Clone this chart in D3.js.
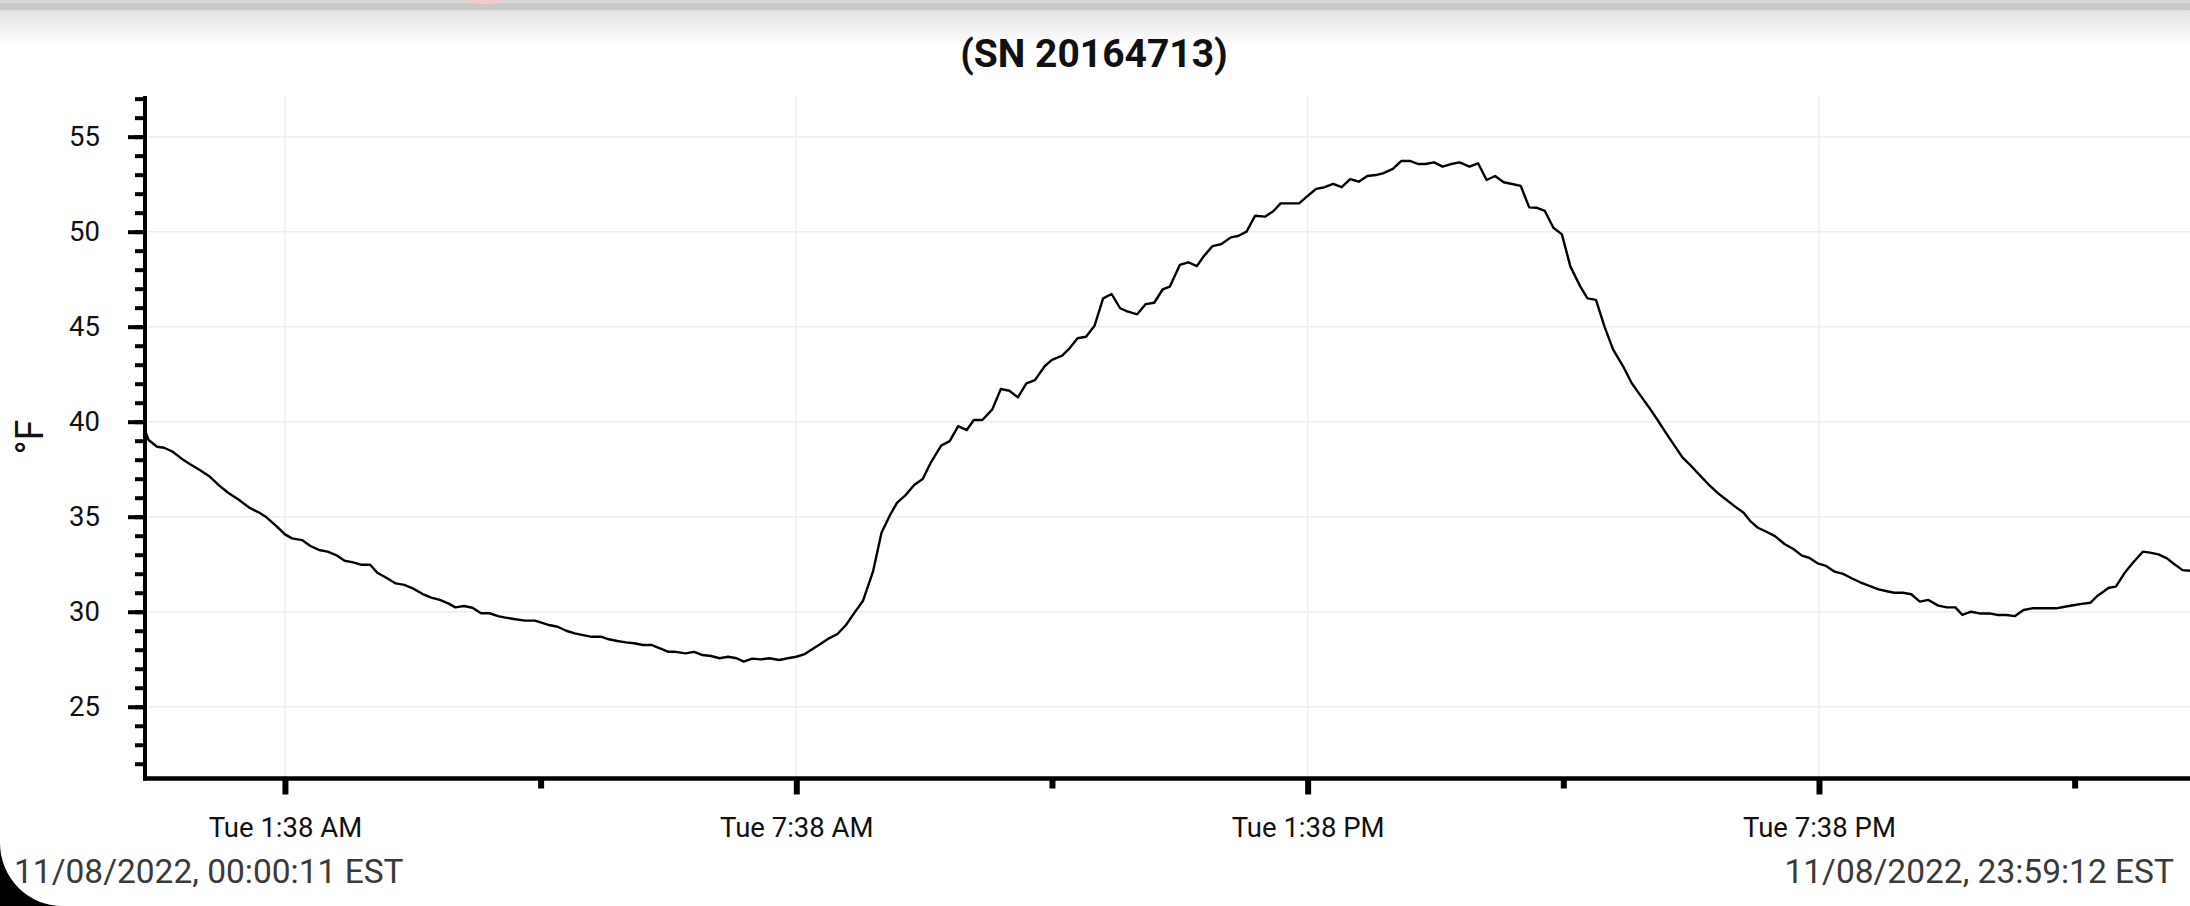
<!DOCTYPE html>
<html>
<head>
    <meta charset="utf-8">
    <title>(SN 20164713)</title>
    <script src="https://d3js.org/d3.v7.min.js"></script>
    <style>
        body {
            margin: 0;
            background: #fff;
            overflow: hidden;
            font-family: Roboto, sans-serif;
        }
        svg { display: block; }
        .tick text {
            font-family: Roboto, sans-serif;
            font-size: 27.5px;
            fill: #111;
        }
    </style>
</head>
<body>
    <svg id="chart"></svg>

    <script>
        // chart data (11/08/2022)
        const day = "2022-11-08";
        const titleText = "(SN 20164713)";
        const yLabel = "°F";
        const startLabel = "11/08/2022, 00:00:11 EST";
        const endLabel = "11/08/2022, 23:59:12 EST";

        const times = [
            "00:00:11", "00:02", "00:08", "00:13", "00:19", "00:25", "00:31", "00:38", "00:45", "00:52",
            "00:58", "01:05", "01:13", "01:20", "01:25", "01:32", "01:38", "01:43", "01:50", "01:56",
            "02:02", "02:08", "02:14", "02:20", "02:26", "02:32", "02:38", "02:43", "02:50", "02:56",
            "03:02", "03:08", "03:15", "03:21", "03:27", "03:33", "03:38", "03:44", "03:50", "03:56",
            "04:02", "04:08", "04:14", "04:19", "04:27", "04:34", "04:38", "04:44", "04:50", "04:56",
            "05:02", "05:08", "05:14", "05:21", "05:26", "05:32", "05:38", "05:44", "05:50", "05:56",
            "06:02", "06:08", "06:13", "06:20", "06:26", "06:32", "06:38", "06:44", "06:50", "06:56",
            "07:01", "07:07", "07:13", "07:19", "07:26", "07:32", "07:38", "07:44", "07:50", "07:55",
            "08:01", "08:07", "08:13", "08:19", "08:25", "08:32", "08:38", "08:44", "08:49", "08:55",
            "09:01", "09:07", "09:13", "09:20", "09:26", "09:32", "09:38", "09:43", "09:49", "09:56",
            "10:02", "10:08", "10:14", "10:20", "10:26", "10:33", "10:38", "10:45", "10:50", "10:56",
            "11:02", "11:08", "11:14", "11:20", "11:26", "11:31", "11:38", "11:44", "11:50", "11:56",
            "12:01", "12:08", "12:14", "12:20", "12:25", "12:31", "12:37", "12:44", "12:49", "12:55",
            "13:01", "13:08", "13:14", "13:19", "13:25", "13:32", "13:38", "13:44", "13:50", "13:56",
            "14:02", "14:08", "14:14", "14:20", "14:26", "14:31", "14:38", "14:44", "14:50", "14:56",
            "15:01", "15:07", "15:13", "15:19", "15:25", "15:32", "15:38", "15:44", "15:50", "15:56",
            "16:02", "16:08", "16:14", "16:19", "16:25", "16:31", "16:37", "16:43", "16:50", "16:55",
            "17:01", "17:07", "17:13", "17:20", "17:26", "17:32", "17:38", "17:44", "17:50", "17:56",
            "18:02", "18:08", "18:14", "18:20", "18:27", "18:33", "18:39", "18:45", "18:50", "18:55",
            "19:01", "19:07", "19:14", "19:20", "19:26", "19:31", "19:37", "19:43", "19:49", "19:55",
            "20:01", "20:07", "20:13", "20:20", "20:25", "20:31", "20:37", "20:43", "20:49", "20:55",
            "21:02", "21:08", "21:14", "21:19", "21:25", "21:31", "21:38", "21:44", "21:50", "21:56",
            "22:02", "22:08", "22:13", "22:19", "22:25", "22:31", "22:37", "22:43", "22:49", "22:54",
            "23:02", "23:07", "23:13", "23:19", "23:26", "23:31", "23:37", "23:43", "23:48", "23:54",
            "23:59:12"
        ];

        const tempsF = [
            39.39, 39.04, 38.68, 38.63, 38.42, 38.07, 37.77, 37.46, 37.11, 36.62,
            36.26, 35.92, 35.47, 35.21, 34.97, 34.51, 34.07, 33.86, 33.77, 33.46,
            33.25, 33.16, 32.98, 32.68, 32.60, 32.47, 32.47, 32.05, 31.76, 31.49,
            31.41, 31.23, 30.93, 30.74, 30.62, 30.44, 30.23, 30.30, 30.21, 29.92,
            29.92, 29.77, 29.68, 29.62, 29.53, 29.53, 29.44, 29.30, 29.21, 29.00,
            28.86, 28.77, 28.68, 28.68, 28.55, 28.46, 28.39, 28.34, 28.25, 28.25,
            28.07, 27.89, 27.89, 27.81, 27.89, 27.72, 27.67, 27.55, 27.63, 27.55,
            27.37, 27.53, 27.49, 27.55, 27.46, 27.55, 27.63, 27.77, 28.07, 28.30,
            28.60, 28.83, 29.30, 29.95, 30.58, 32.11, 34.16, 35.09, 35.74, 36.14,
            36.67, 36.98, 37.89, 38.74, 38.98, 39.77, 39.56, 40.09, 40.09, 40.65,
            41.72, 41.63, 41.28, 42.02, 42.19, 42.93, 43.25, 43.47, 43.83, 44.39,
            44.47, 45.05, 46.49, 46.72, 45.97, 45.81, 45.65, 46.19, 46.26, 46.97,
            47.11, 48.25, 48.39, 48.19, 48.72, 49.24, 49.34, 49.70, 49.77, 50.00,
            50.84, 50.79, 51.09, 51.49, 51.49, 51.49, 51.88, 52.25, 52.34, 52.51,
            52.34, 52.77, 52.63, 52.93, 52.98, 53.07, 53.30, 53.72, 53.72, 53.56,
            53.56, 53.65, 53.42, 53.56, 53.65, 53.42, 53.60, 52.72, 52.93, 52.60,
            52.51, 52.41, 51.28, 51.26, 51.09, 50.21, 49.86, 48.16, 47.11, 46.49,
            46.41, 45.00, 43.81, 42.93, 42.05, 41.41, 40.79, 40.13, 39.44, 38.77,
            38.11, 37.67, 37.19, 36.72, 36.23, 35.88, 35.53, 35.21, 34.74, 34.42,
            34.21, 33.98, 33.55, 33.30, 32.95, 32.84, 32.55, 32.41, 32.11, 31.99,
            31.76, 31.55, 31.37, 31.18, 31.09, 31.00, 31.00, 30.92, 30.53, 30.62,
            30.32, 30.23, 30.23, 29.83, 30.00, 29.91, 29.91, 29.83, 29.83, 29.77,
            30.09, 30.18, 30.18, 30.18, 30.18, 30.26, 30.34, 30.41, 30.47, 30.83,
            31.26, 31.32, 32.02, 32.58, 33.16, 33.11, 33.02, 32.81, 32.51, 32.19,
            32.16
        ];

        // axis ticks
        const yMajorTicks = [25, 30, 35, 40, 45, 50, 55];
        const yMinorTicks = d3.range(22, 58);
        const xMajorTicks = ["01:38", "07:38", "13:38", "19:38"];
        const xMinorTicks = ["04:38", "10:38", "16:38", "22:38"];
        const yDomain = [21.25, 57.14];

        // layout
        const width = 2190, height = 906;
        const plot = { left: 146, right: 2190, top: 96, bottom: 778 };
        const axisX = 145, axisY = 778.5;

        function parseTime(s) {
            const f = s.length > 5 ? "%Y-%m-%d %H:%M:%S" : "%Y-%m-%d %H:%M";
            return d3.timeParse(f)(day + " " + s);
        }

        const data = times.map((t, i) => ({ t: parseTime(t), v: tempsF[i] }));

        const svg = d3.select("#chart")
            .attr("width", width)
            .attr("height", height);

        // background: top shadow band, rounded corner
        const defs = svg.append("defs");
        const grad = defs.append("linearGradient")
            .attr("id", "topShade")
            .attr("x1", 0).attr("x2", 0).attr("y1", 0).attr("y2", 1);
        grad.append("stop").attr("offset", "0%").attr("stop-color", "#e1e1e1");
        grad.append("stop").attr("offset", "100%").attr("stop-color", "#ffffff");

        svg.append("rect").attr("width", width).attr("height", height).attr("fill", "#fff");
        svg.append("rect").attr("y", 0).attr("width", width).attr("height", 3).attr("fill", "#d9d9d9");
        svg.append("rect").attr("y", 3).attr("width", width).attr("height", 7).attr("fill", "#c9c9c9");
        svg.append("rect").attr("y", 10).attr("width", width).attr("height", 36).attr("fill", "url(#topShade)");
        svg.append("ellipse").attr("cx", 486).attr("cy", 1).attr("rx", 18).attr("ry", 3).attr("fill", "#f2cccc");
        svg.append("path")
            .attr("d", "M0,843 A62,63 0 0 0 62,906 L0,906 Z")
            .attr("fill", "#000");

        // scales
        const x = d3.scaleTime()
            .domain([data[0].t, data[data.length - 1].t])
            .range([plot.left, plot.right]);

        const y = d3.scaleLinear()
            .domain(yDomain)
            .range([plot.bottom, plot.top]);

        // grid
        const grid = svg.append("g").attr("stroke", "#eeeeee").attr("stroke-width", 1.5);
        grid.selectAll(".hgrid")
            .data(yMajorTicks)
            .enter().append("line")
            .attr("x1", plot.left).attr("x2", plot.right)
            .attr("y1", d => y(d)).attr("y2", d => y(d));
        grid.selectAll(".vgrid")
            .data(xMajorTicks.map(parseTime))
            .enter().append("line")
            .attr("x1", d => x(d)).attr("x2", d => x(d))
            .attr("y1", plot.top).attr("y2", plot.bottom);

        // temperature line
        const line = d3.line()
            .x(d => x(d.t))
            .y(d => y(d.v));

        svg.append("path")
            .datum(data)
            .attr("fill", "none")
            .attr("stroke", "#000")
            .attr("stroke-width", 2.4)
            .attr("stroke-linejoin", "round")
            .attr("d", line);

        // y axis: minor then major ticks
        svg.append("g")
            .attr("transform", `translate(${axisX},0)`)
            .call(d3.axisLeft(y).tickValues(yMinorTicks).tickSize(10).tickSizeOuter(0).tickFormat(""))
            .call(g => g.select(".domain").remove())
            .call(g => g.selectAll(".tick line").attr("stroke", "#000").attr("stroke-width", 4));

        svg.append("g")
            .attr("transform", `translate(${axisX},0)`)
            .call(d3.axisLeft(y).tickValues(yMajorTicks).tickSize(17).tickPadding(28).tickSizeOuter(0))
            .call(g => g.select(".domain").remove())
            .call(g => g.selectAll(".tick line").attr("stroke", "#000").attr("stroke-width", 4));

        // x axis
        const fmt = d3.timeFormat("%a %-I:%M %p");

        svg.append("g")
            .attr("transform", `translate(0,${axisY})`)
            .call(d3.axisBottom(x).tickValues(xMinorTicks.map(parseTime)).tickSize(10).tickSizeOuter(0).tickFormat(""))
            .call(g => g.select(".domain").remove())
            .call(g => g.selectAll(".tick line").attr("stroke", "#000").attr("stroke-width", 6));

        svg.append("g")
            .attr("transform", `translate(0,${axisY})`)
            .call(d3.axisBottom(x).tickValues(xMajorTicks.map(parseTime)).tickSize(16).tickPadding(23).tickSizeOuter(0).tickFormat(fmt))
            .call(g => g.select(".domain").remove())
            .call(g => g.selectAll(".tick line").attr("stroke", "#000").attr("stroke-width", 6));

        // axis lines
        svg.append("line")
            .attr("x1", axisX).attr("x2", axisX)
            .attr("y1", plot.top).attr("y2", axisY + 2)
            .attr("stroke", "#000").attr("stroke-width", 4);
        svg.append("line")
            .attr("x1", axisX - 2).attr("x2", plot.right)
            .attr("y1", axisY).attr("y2", axisY)
            .attr("stroke", "#000").attr("stroke-width", 4.5);

        // texts
        svg.append("text")
            .attr("x", 1094).attr("y", 67)
            .attr("text-anchor", "middle")
            .style("font-size", "39px")
            .style("font-weight", "bold")
            .attr("fill", "#111")
            .text(titleText);

        svg.append("text")
            .attr("transform", "translate(43,437) rotate(-90)")
            .attr("text-anchor", "middle")
            .style("font-size", "38px")
            .attr("fill", "#111")
            .text(yLabel);

        svg.append("text")
            .attr("x", 14).attr("y", 883)
            .style("font-size", "33.5px")
            .attr("fill", "#3a3a3a")
            .text(startLabel);

        svg.append("text")
            .attr("x", 2174).attr("y", 883)
            .attr("text-anchor", "end")
            .style("font-size", "33.5px")
            .attr("fill", "#3a3a3a")
            .text(endLabel);
    </script>
</body>
</html>
